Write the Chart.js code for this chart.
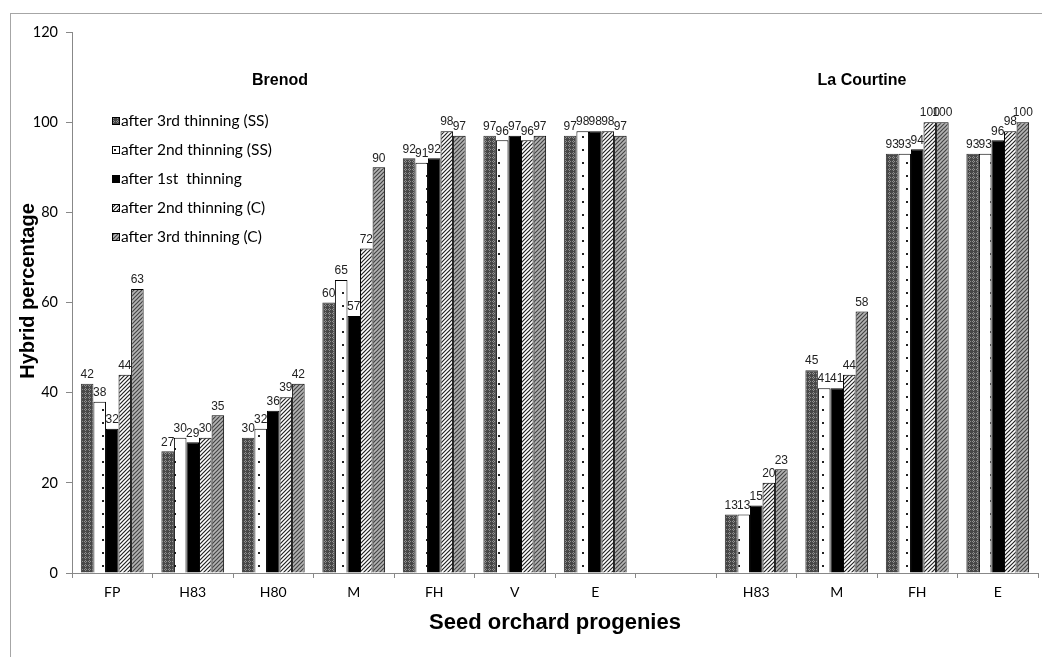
<!DOCTYPE html>
<html>
<head>
<meta charset="utf-8">
<script src="https://cdn.jsdelivr.net/npm/chart.js@4.4.1/dist/chart.umd.min.js"></script>
<style>
  html, body { margin: 0; padding: 0; background: #fff; }
  #wrap { width: 1042px; height: 657px; position: relative; }
</style>
</head>
<body>
<div id="wrap"><canvas id="chart"></canvas></div>
<script>
// categories (blank slot separates the two sites)
const categories = ['FP', 'H83', 'H80', 'M', 'FH', 'V', 'E', '', 'H83', 'M', 'FH', 'E'];
const seriesNames = [
    'after 3rd thinning (SS)',
    'after 2nd thinning (SS)',
    'after 1st  thinning',
    'after 2nd thinning (C)',
    'after 3rd thinning (C)'
];
const third_SS  = [42, 27, 30, 60, 92, 97, 97, null, 13, 45, 93, 93];
const second_SS = [38, 30, 32, 65, 91, 96, 98, null, 13, 41, 93, 93];
const first     = [32, 29, 36, 57, 92, 97, 98, null, 15, 41, 94, 96];
const second_C  = [44, 30, 39, 72, 98, 96, 98, null, 20, 44, 100, 98];
const third_C   = [63, 35, 42, 90, 97, 97, 97, null, 23, 58, 100, 100];
const yTicks = [0, 20, 40, 60, 80, 100, 120];
const siteTitles = [
    { text: 'Brenod', x: 280, y: 81 },
    { text: 'La Courtine', x: 862, y: 81 }
];

// --- fill patterns (Excel-like) ---
function makePattern(w, h, draw) {
    const c = document.createElement('canvas');
    c.width = w; c.height = h;
    const g = c.getContext('2d');
    draw(g, w, h);
    return g.createPattern(c, 'repeat');
}
const patDarkDots = makePattern(4, 4, (g) => {
    g.fillStyle = '#474747'; g.fillRect(0, 0, 4, 4);
    g.fillStyle = '#8f8f8f';
    g.fillRect(1, 0, 1, 1); g.fillRect(0, 1, 1, 1); g.fillRect(2, 1, 1, 1); g.fillRect(1, 2, 1, 1);
});
const patSparseDots = makePattern(12, 13, (g) => {
    g.fillStyle = '#fff'; g.fillRect(0, 0, 12, 13);
    g.fillStyle = '#222'; g.fillRect(6, 6, 2, 2);
});
function stripes(bg, fg) {
    return makePattern(4, 4, (g) => {
        g.fillStyle = bg; g.fillRect(0, 0, 4, 4);
        g.strokeStyle = fg; g.lineWidth = 1.2;
        g.beginPath();
        g.moveTo(-1, 1); g.lineTo(1, -1);
        g.moveTo(0, 4); g.lineTo(4, 0);
        g.moveTo(3, 5); g.lineTo(5, 3);
        g.stroke();
    });
}
const patWhiteStripes = stripes('#fff', '#222');
const patGreyStripes = stripes('#b4b4b4', '#444');

const fills = [patDarkDots, patSparseDots, '#000', patWhiteStripes, patGreyStripes];
const values = [third_SS, second_SS, first, second_C, third_C];

// frame, legend, titles, value labels
const decor = {
    id: 'decor',
    beforeDraw(chart) {
        const ctx = chart.ctx;
        ctx.save();
        ctx.fillStyle = '#fff';
        ctx.fillRect(0, 0, chart.width, chart.height);
        ctx.strokeStyle = '#a6a6a6';
        ctx.lineWidth = 1;
        ctx.strokeRect(10.5, 13.5, 1200, 1000);
        ctx.restore();
    },
    afterDatasetsDraw(chart) {
        const ctx = chart.ctx;
        ctx.save();
        // value labels
        ctx.font = '12px "Liberation Sans", Arial, sans-serif';
        ctx.fillStyle = '#222';
        ctx.textAlign = 'center';
        ctx.textBaseline = 'bottom';
        chart.data.datasets.forEach((ds, i) => {
            const meta = chart.getDatasetMeta(i);
            meta.data.forEach((bar, j) => {
                const v = ds.data[j];
                if (v === null || v === undefined) return;
                ctx.fillText(String(v), bar.x, bar.y - 3);
            });
        });
        // site titles
        ctx.font = 'bold 16px "Liberation Sans", Arial, sans-serif';
        ctx.fillStyle = '#000';
        ctx.textBaseline = 'middle';
        siteTitles.forEach(t => ctx.fillText(t.text, t.x, t.y));
        // legend
        ctx.font = '15.5px Lato, "Open Sans", sans-serif';
        ctx.textAlign = 'left';
        const ys = [121, 150, 179, 208, 237];
        seriesNames.forEach((name, i) => {
            const y = ys[i];
            ctx.fillStyle = fills[i];
            ctx.fillRect(112, y - 4, 8, 8);
            ctx.strokeStyle = '#000';
            ctx.lineWidth = 1;
            ctx.strokeRect(112.5, y - 3.5, 7, 7);
            ctx.fillStyle = '#000';
            ctx.fillText(name, 121, y);
        });
        // axis titles
        ctx.font = 'bold 22px "Liberation Sans", Arial, sans-serif';
        ctx.textAlign = 'center';
        ctx.fillText('Seed orchard progenies', 555, 623);
        ctx.font = 'bold 20px "Liberation Sans", Arial, sans-serif';
        ctx.translate(28, 291);
        ctx.rotate(-Math.PI / 2);
        ctx.fillText('Hybrid percentage', 0, 0);
        ctx.restore();
    }
};

const datasets = seriesNames.map((name, i) => ({
    label: name,
    data: values[i],
    backgroundColor: fills[i],
    borderColor: i === 0 ? '#333' : '#000',
    borderWidth: 1,
    barPercentage: 1.0,
    categoryPercentage: 0.78
}));

new Chart(document.getElementById('chart'), {
    type: 'bar',
    data: { labels: categories, datasets },
    plugins: [decor],
    options: {
        responsive: true,
        maintainAspectRatio: false,
        animation: false,
        events: [],
        layout: { padding: { left: 10, right: 4, top: 32, bottom: 0 } },
        plugins: {
            legend: { display: false },
            tooltip: { enabled: false },
            title: { display: false }
        },
        scales: {
            x: {
                grid: { display: true, drawOnChartArea: false, offset: true, tickLength: 5, color: '#888' },
                border: { color: '#888' },
                ticks: { color: '#000', font: { family: 'Lato, "Open Sans", sans-serif', size: 14 }, padding: 6, maxRotation: 0, autoSkip: false },
                afterFit(scale) { scale.height = 84; }
            },
            y: {
                min: 0,
                max: 120,
                afterBuildTicks(scale) { scale.ticks = yTicks.map(v => ({ value: v })); },
                grid: { display: true, drawOnChartArea: false, tickLength: 6, color: '#888' },
                border: { color: '#888' },
                ticks: { color: '#000', font: { family: 'Lato, "Open Sans", sans-serif', size: 14.5 }, padding: 8 },
                afterFit(scale) { scale.width = 62; }
            }
        }
    }
});
</script>
</body>
</html>
